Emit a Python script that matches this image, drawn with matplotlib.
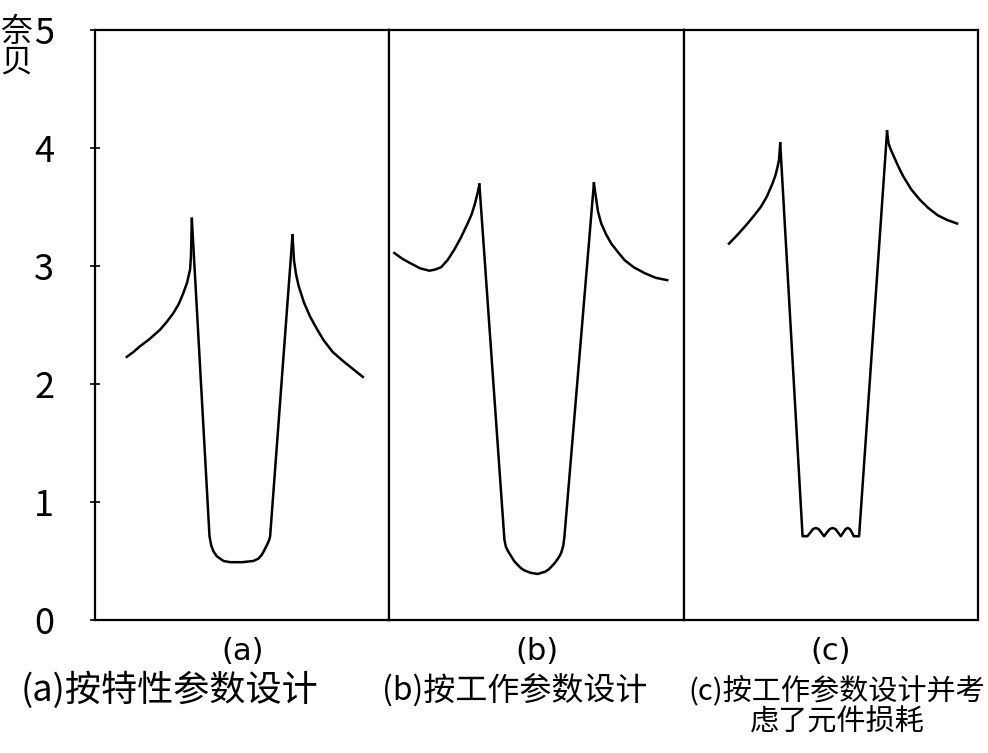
import matplotlib
matplotlib.use("Agg")
import matplotlib.pyplot as plt

plt.rcParams['font.family'] = ['Noto Sans CJK SC', 'DejaVu Sans']

# 纵轴：奈贝 (0..5)；每个分图横坐标 0..100（无刻度）
y_ticks = [0, 1, 2, 3, 4, 5]
panel_names = ['(a)', '(b)', '(c)']
captions = ['(a)按特性参数设计', '(b)按工作参数设计', '(c)按工作参数设计并考\n虑了元件损耗']

# (a) 按特性参数设计
a_left_x = [10.8, 13.0, 15.3, 18.5, 22.1, 24.5, 26.6, 28.5, 30.0, 31.3, 32.3, 32.6, 32.9]
a_left_y = [2.23, 2.27, 2.32, 2.38, 2.46, 2.53, 2.60, 2.68, 2.77, 2.86, 2.97, 3.08, 3.40]
a_mid_x = [32.9, 38.9, 39.5, 40.3, 41.4, 42.5, 43.7, 45.9, 50.0, 53.8, 55.5, 56.6, 57.5, 58.5, 59.2, 59.5, 67.1]
a_mid_y = [3.40, 0.71, 0.63, 0.58, 0.54, 0.52, 0.50, 0.49, 0.49, 0.50, 0.52, 0.55, 0.59, 0.64, 0.68, 0.71, 3.26]
a_right_x = [67.1, 67.6, 68.3, 69.2, 71.0, 73.1, 75.3, 77.7, 80.8, 84.5, 88.0, 91.0]
a_right_y = [3.26, 3.05, 2.93, 2.83, 2.69, 2.57, 2.47, 2.37, 2.27, 2.19, 2.12, 2.06]

# (b) 按工作参数设计
b_left_x = [1.7, 4.5, 7.4, 10.5, 13.6, 15.6, 17.6, 19.8, 22.1, 24.3, 26.6, 28.0, 29.0, 30.0, 30.6]
b_left_y = [3.11, 3.06, 3.02, 2.98, 2.96, 2.97, 2.99, 3.05, 3.14, 3.24, 3.36, 3.44, 3.52, 3.62, 3.69]
b_mid_x = [30.6, 39.1, 39.6, 40.4, 41.4, 42.4, 43.5, 44.7, 45.9, 48.0, 50.4, 53.0, 54.2, 55.0,
           56.1, 57.0, 57.8, 58.4, 59.1, 59.5, 69.5]
b_mid_y = [3.69, 0.68, 0.62, 0.58, 0.54, 0.50, 0.47, 0.44, 0.42, 0.40, 0.39, 0.41, 0.43, 0.45,
           0.48, 0.51, 0.54, 0.57, 0.63, 0.71, 3.70]
b_right_x = [69.5, 70.2, 70.9, 72.0, 73.6, 75.4, 77.6, 79.9, 83.0, 86.7, 90.5, 94.4]
b_right_y = [3.70, 3.58, 3.46, 3.36, 3.27, 3.19, 3.12, 3.05, 2.99, 2.94, 2.90, 2.88]

# (c) 按工作参数设计并考虑了元件损耗
c_left_x = [15.4, 18.5, 21.7, 24.0, 26.2, 28.3, 30.2, 31.2, 31.9, 32.4, 32.8]
c_left_y = [3.19, 3.27, 3.36, 3.43, 3.50, 3.59, 3.70, 3.77, 3.84, 3.90, 4.04]
c_mid_x = [32.8, 40.4, 42.0, 43.0, 43.9, 44.9, 45.9, 46.8, 47.7, 48.6, 49.6, 50.6, 51.6,
           52.5, 53.4, 54.2, 55.0, 55.7, 56.5, 57.2, 57.8, 59.6, 69.1]
c_mid_y = [4.04, 0.71, 0.71, 0.74, 0.77, 0.78, 0.77, 0.74, 0.71, 0.74, 0.77, 0.78, 0.77,
           0.74, 0.71, 0.74, 0.77, 0.78, 0.77, 0.74, 0.71, 0.71, 4.14]
c_right_x = [69.1, 69.6, 70.3, 71.2, 72.8, 74.6, 77.3, 80.3, 83.2, 86.3, 89.5, 92.9]
c_right_y = [4.14, 4.04, 3.99, 3.94, 3.85, 3.76, 3.65, 3.56, 3.49, 3.43, 3.39, 3.36]

panels = [
    [(a_left_x, a_left_y), (a_mid_x, a_mid_y), (a_right_x, a_right_y)],
    [(b_left_x, b_left_y), (b_mid_x, b_mid_y), (b_right_x, b_right_y)],
    [(c_left_x, c_left_y), (c_mid_x, c_mid_y), (c_right_x, c_right_y)],
]

fig = plt.figure(figsize=(9.88, 7.53), dpi=100)
left, right = 95 / 988., 978 / 988.
bottom, top = 1 - 620 / 753., 1 - 30 / 753.
w = (right - left) / 3.

for i in range(3):
    ax = fig.add_axes([left + i * w, bottom, w, top - bottom])
    ax.set_xlim(0, 100)
    ax.set_ylim(0, 5)
    ax.set_xticks([])
    for s in ax.spines.values():
        s.set_linewidth(1.6)
        s.set_color('black')
    if i == 0:
        ax.set_yticks(y_ticks)
        ax.set_yticklabels([str(t) for t in y_ticks], fontsize=26)
        ax.tick_params(axis='y', direction='inout', length=7, width=1.2, pad=26)
    else:
        ax.set_yticks([])
    for xs, ys in panels[i]:
        ax.plot(xs, ys, color='black', linewidth=1.8, solid_joinstyle='round')
    ax.text(50, -0.27, panel_names[i], ha='center', va='center',
            fontsize=22, family=['DejaVu Sans'])

# 底部说明文字
fig.text(170 / 988., 1 - 690 / 753., captions[0], ha='center', va='center', fontsize=26)
fig.text(515 / 988., 1 - 690 / 753., captions[1], ha='center', va='center', fontsize=23)
fig.text(837 / 988., 1 - 707 / 753., captions[2], ha='center', va='center', fontsize=21,
         linespacing=1.0)

# 纵轴单位
fig.text(16 / 988., 1 - 47 / 753., '奈\n贝', ha='center', va='center', fontsize=23,
         linespacing=0.95)

fig.savefig('out.png', dpi=100)
